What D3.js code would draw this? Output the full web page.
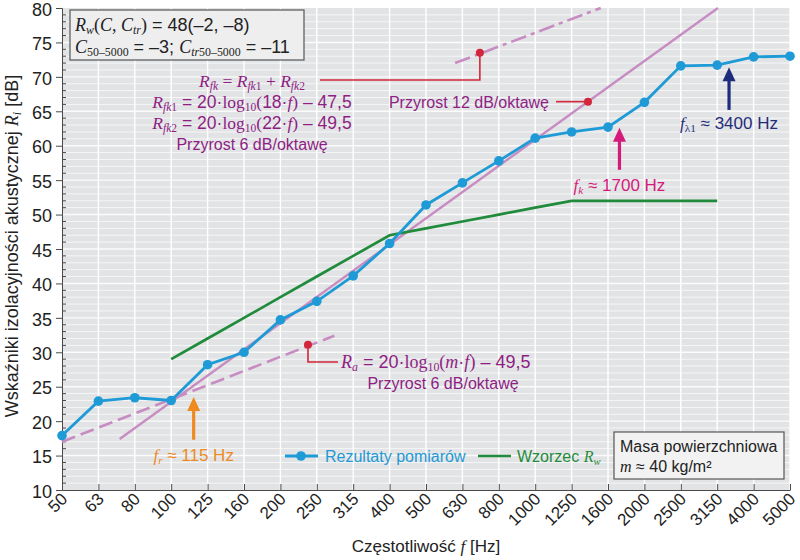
<!DOCTYPE html>
<html><head><meta charset="utf-8">
<script src="https://cdn.jsdelivr.net/npm/d3@7"></script>
<style>body{margin:0;background:#fff}</style>
</head><body><svg id="c" width="800" height="560"></svg>
<script>
// ---------- data ----------
const categories = ["50","63","80","100","125","160","200","250","315","400","500","630","800","1000","1250","1600","2000","2500","3150","4000","5000"];
const measured = [17.9,22.9,23.4,23.0,28.2,30.0,34.7,37.4,41.1,45.8,51.4,54.6,57.8,61.1,62.0,62.7,66.3,71.6,71.7,72.9,73.0];
const refCategories = ["100","125","160","200","250","315","400","500","630","800","1000","1250","1600","2000","2500","3150"];
const refValues = [29,32,35,38,41,44,47,48,49,50,51,52,52,52,52,52];
// theoretical lines: [frequency Hz, dB]
const massLawLine = [[50,17.0],[280,32.4]];
const coincidenceLine = [[72,17.4],[3170,80]];
const fk6Line = [[601,72.0],[1510,80]];
const massLawDot = [237,31.1];
const coincidenceDot = [1393,66.4];
const fk6Dot = [703,73.5];
// arrows: frequency, tail dB, tip dB
const arrowFr = [115,17.3,23.5];
const arrowFk = [1700,56.5,62.6];
const arrowFl = [3400,65.2,71.4];
const yTicks = [10,15,20,25,30,35,40,45,50,55,60,65,70,75,80];

// ---------- setup ----------
const SANS = "'Liberation Sans', Arial, sans-serif";
const SERIF = "'Liberation Serif', 'Times New Roman', serif";
const C = {bg:"#e2e3e5", blue:"#1e9ad6", green:"#1f8b3b", pink:"#c78dc2", purple:"#8e1e84",
  red:"#d3263a", orange:"#ee8a1f", magenta:"#d61a7b", navy:"#1f2c7c", axis:"#4a4a4a"};
const svg = d3.select("#c");
const L = 62, R = 790, T = 8, B = 490;
const x = d3.scalePoint().domain(categories).range([L, R]);
const xf = d3.scaleLog().domain([50, 5000]).range([L, R]);
const y = d3.scaleLinear().domain([10, 80]).range([B, T]);

svg.append("rect").attr("x", L).attr("y", T).attr("width", R - L).attr("height", B - T).attr("fill", C.bg);
// grid
const minor = d3.range(11, 80);
svg.append("g").selectAll("line").data(minor).join("line")
  .attr("x1", L).attr("x2", R).attr("y1", d => y(d)).attr("y2", d => y(d))
  .attr("stroke", "#fff").attr("stroke-width", d => d % 5 === 0 ? 1.4 : 0.8).attr("opacity", 0.9);
svg.append("g").selectAll("line").data(categories.slice(1)).join("line")
  .attr("x1", d => x(d)).attr("x2", d => x(d)).attr("y1", T).attr("y2", B)
  .attr("stroke", "#fff").attr("stroke-width", 1.4);

// axes
const yAxis = svg.append("g").attr("transform", `translate(${L},0)`)
  .call(d3.axisLeft(y).tickValues(yTicks).tickSize(6).tickPadding(4).tickFormat(d3.format("d")));
yAxis.select(".domain").attr("stroke", C.axis);
yAxis.selectAll(".tick line").attr("stroke", C.axis);
yAxis.selectAll("text").style("font-family", SANS).style("font-size", "18px").attr("fill", "#222").attr("dy", "0.4em");
svg.append("g").selectAll("line").data(minor.filter(d => d % 5)).join("line")
  .attr("x1", L).attr("x2", L + 4).attr("y1", d => y(d)).attr("y2", d => y(d)).attr("stroke", C.axis);

const xAxis = svg.append("g").attr("transform", `translate(0,${B})`)
  .call(d3.axisBottom(x).tickSize(-6).tickSizeOuter(0).tickPadding(8));
xAxis.select(".domain").attr("stroke", C.axis);
xAxis.selectAll(".tick line").attr("stroke", C.axis);
xAxis.selectAll("text").style("font-family", SANS).style("font-size", "17px").attr("fill", "#222")
  .attr("text-anchor", "end").attr("dy", null).attr("y", 0)
  .attr("transform", "translate(6,10) rotate(-45)");

// rich text helper: style flags s=serif i=italic b=subscript
function rich(g, px, py, segs, o) {
  const t = g.append("text").attr("x", px).attr("y", py).attr("text-anchor", o.anchor || "start")
    .attr("fill", o.color).style("font-size", o.size + "px").style("font-family", SANS);
  if (o.rotate) t.attr("transform", `rotate(${o.rotate},${px},${py})`);
  let shift = 0;
  segs.forEach(([str, st]) => {
    st = st || "";
    const ts = t.append("tspan").text(str);
    ts.style("font-family", st.includes("s") ? SERIF : SANS);
    if (st.includes("i")) ts.style("font-style", "italic");
    const sub = st.includes("b");
    const target = sub ? o.size * 0.18 : 0;
    if (target !== shift) { ts.attr("dy", target - shift); shift = target; }
    if (sub) ts.style("font-size", (o.size * 0.66) + "px");
  });
  return t;
}

// ---------- lines ----------
const lf = d3.line().x(d => xf(d[0])).y(d => y(d[1]));
svg.append("path").attr("d", lf(massLawLine)).attr("fill", "none").attr("stroke", C.pink)
  .attr("stroke-width", 2.6).attr("stroke-dasharray", "14,6");
svg.append("path").attr("d", lf(coincidenceLine)).attr("fill", "none").attr("stroke", C.pink)
  .attr("stroke-width", 2.4);
svg.append("path").attr("d", lf(fk6Line)).attr("fill", "none").attr("stroke", C.pink)
  .attr("stroke-width", 2.6).attr("stroke-dasharray", "16,5,4,5");

const lc = d3.line().x(d => x(d[0])).y(d => y(d[1]));
svg.append("path").attr("d", lc(refCategories.map((c, i) => [c, refValues[i]])))
  .attr("fill", "none").attr("stroke", C.green).attr("stroke-width", 2.7);
const meas = categories.map((c, i) => [c, measured[i]]);
svg.append("path").attr("d", lc(meas)).attr("fill", "none").attr("stroke", C.blue).attr("stroke-width", 2.8);
svg.append("g").selectAll("circle").data(meas).join("circle")
  .attr("cx", d => x(d[0])).attr("cy", d => y(d[1])).attr("r", 4.8).attr("fill", C.blue);

// ---------- annotations ----------
const g = svg.append("g");
const fkDx = xf(fk6Dot[0]), fkDy = y(fk6Dot[1]);
g.append("path").attr("d", `M320,80 H${fkDx} V${fkDy}`).attr("fill", "none").attr("stroke", C.red).attr("stroke-width", 1.6);
g.append("circle").attr("cx", fkDx).attr("cy", fkDy).attr("r", 4).attr("fill", C.red);
const cDx = xf(coincidenceDot[0]), cDy = y(coincidenceDot[1]);
g.append("path").attr("d", `M556,${cDy} H${cDx}`).attr("stroke", C.red).attr("stroke-width", 1.6);
g.append("circle").attr("cx", cDx).attr("cy", cDy).attr("r", 4).attr("fill", C.red);
const mDx = xf(massLawDot[0]), mDy = y(massLawDot[1]);
g.append("path").attr("d", `M${mDx},${mDy} V362 H338`).attr("fill", "none").attr("stroke", C.red).attr("stroke-width", 1.6);
g.append("circle").attr("cx", mDx).attr("cy", mDy).attr("r", 4).attr("fill", C.red);

const S = 16, F = 17.5;
rich(g, 252, 87, [["R","si"],["fk","sib"],[" = ","s"],["R","si"],["fk","sib"],["1","sb"],[" + ","s"],["R","si"],["fk","sib"],["2","sb"]], {anchor:"middle", color:C.purple, size:F});
rich(g, 252, 108, [["R","si"],["fk","sib"],["1","sb"],[" = 20·"],["log","s"],["10","sb"],["(","s"],["18·"],["f","si"],[")","s"],[" – 47,5"]], {anchor:"middle", color:C.purple, size:F});
rich(g, 252, 129, [["R","si"],["fk","sib"],["2","sb"],[" = 20·"],["log","s"],["10","sb"],["(","s"],["22·"],["f","si"],[")","s"],[" – 49,5"]], {anchor:"middle", color:C.purple, size:F});
rich(g, 252, 150, [["Przyrost 6 dB/oktawę"]], {anchor:"middle", color:C.purple, size:S});
rich(g, 549, cDy + 6, [["Przyrost 12 dB/oktawę"]], {anchor:"end", color:C.purple, size:S});
rich(g, 341, 368, [["R","si"],["a","sib"],[" = 20·"],["log","s"],["10","sb"],["(","s"],["m","si"],["·"],["f","si"],[")","s"],[" – 49,5"]], {color:C.purple, size:18});
rich(g, 443, 389, [["Przyrost 6 dB/oktawę"]], {anchor:"middle", color:C.purple, size:S});

function arrow(a, color) {
  const ax = xf(a[0]), y0 = y(a[1]), y1 = y(a[2]);
  g.append("line").attr("x1", ax).attr("x2", ax).attr("y1", y0).attr("y2", y1 + 10)
    .attr("stroke", color).attr("stroke-width", 3.2);
  g.append("path").attr("d", `M${ax},${y1} L${ax - 6.5},${y1 + 14} L${ax + 6.5},${y1 + 14} Z`).attr("fill", color);
  return [ax, y0];
}
const pr = arrow(arrowFr, C.orange);
rich(g, pr[0], pr[1] + 21, [["f","si"],["r","sib"],[" ≈ 115 Hz"]], {anchor:"middle", color:C.orange, size:17});
const pk = arrow(arrowFk, C.magenta);
rich(g, pk[0], pk[1] + 21, [["f","si"],["k","sib"],[" ≈ 1700 Hz"]], {anchor:"middle", color:C.magenta, size:17});
const pl = arrow(arrowFl, C.navy);
rich(g, pl[0], pl[1] + 19, [["f","si"],["λ1","sb"],[" ≈ 3400 Hz"]], {anchor:"middle", color:C.navy, size:17});

// top-left box
g.append("rect").attr("x", 70).attr("y", 10).attr("width", 234).attr("height", 50)
  .attr("fill", "#eeeeef").attr("stroke", "#555").attr("stroke-width", 1.2);
rich(g, 75, 31, [["R","si"],["w","sib"],["(","s"],["C","si"],[", ","s"],["C","si"],["tr","sib"],[")","s"],[" = 48(–2, –8)"]], {color:"#222", size:18});
rich(g, 75, 53, [["C","si"],["50–5000","sb"],[" = –3; "],["C","si"],["tr","sib"],["50–5000","sb"],[" = –11"]], {color:"#222", size:18});

// legend
const ly = 456;
g.append("line").attr("x1", 285).attr("x2", 318).attr("y1", ly).attr("y2", ly).attr("stroke", C.blue).attr("stroke-width", 2.8);
g.append("circle").attr("cx", 301).attr("cy", ly).attr("r", 4.8).attr("fill", C.blue);
rich(g, 325, ly + 6, [["Rezultaty pomiarów"]], {color:C.blue, size:S});
g.append("line").attr("x1", 478).attr("x2", 511).attr("y1", ly).attr("y2", ly).attr("stroke", C.green).attr("stroke-width", 2.7);
rich(g, 517, ly + 6, [["Wzorzec "],["R","si"],["w","sib"]], {color:C.green, size:S});

// mass box
g.append("rect").attr("x", 614).attr("y", 432).attr("width", 170).attr("height", 47)
  .attr("fill", "#f2f2f2").attr("stroke", "#555").attr("stroke-width", 1.2);
rich(g, 620, 452, [["Masa powierzchniowa"]], {color:"#222", size:S});
rich(g, 620, 472, [["m","si"],[" ≈ 40 kg/m²"]], {color:"#222", size:S});

// axis titles
rich(svg, 426, 552, [["Częstotliwość "],["f","si"],[" [Hz]"]], {anchor:"middle", color:"#222", size:17});
rich(svg, 18, 246, [["Wskaźniki izolacyjności akustycznej "],["R","si"],["i","sib"],[" [dB]"]], {anchor:"middle", color:"#222", size:18, rotate:-90});
</script></body></html>
